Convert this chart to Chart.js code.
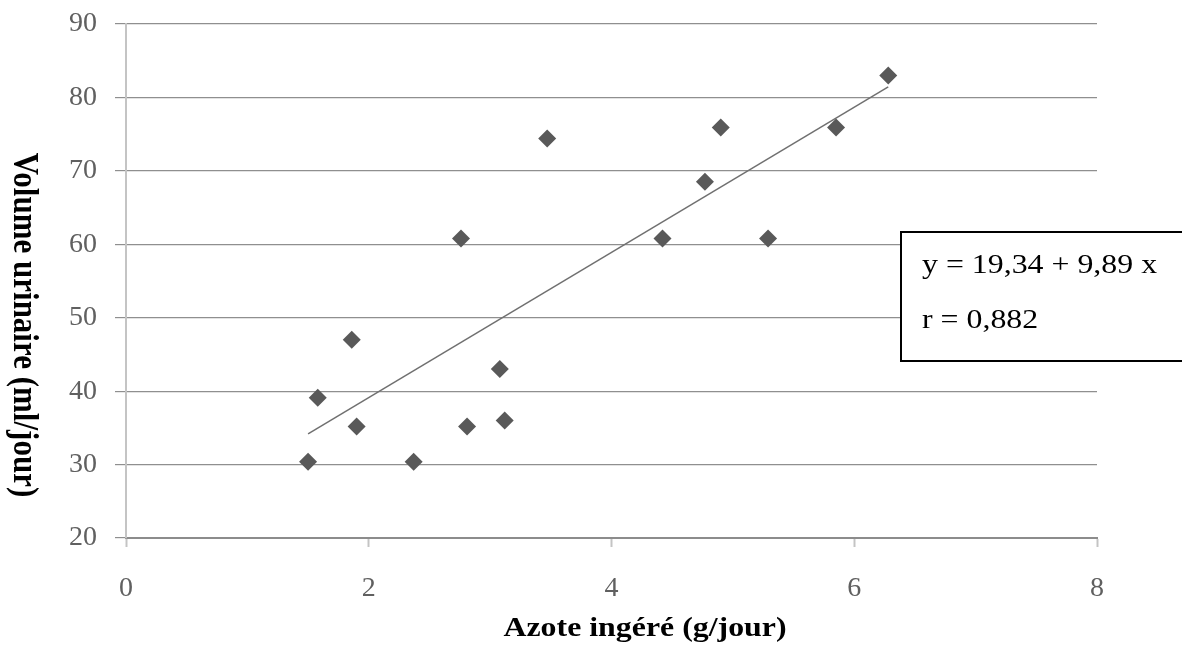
<!DOCTYPE html>
<html>
<head>
<meta charset="utf-8">
<script src="https://cdn.jsdelivr.net/npm/chart.js@4.4.0/dist/chart.umd.min.js"></script>
<style>
  html, body { margin: 0; padding: 0; background: #fff; }
  #wrap { width: 1182px; height: 646px; }
</style>
</head>
<body>
<div id="wrap"><canvas id="azoteChart" width="1182" height="646"></canvas></div>
<script>
// valeurs
const azote = [1.50, 1.58, 1.86, 1.90, 2.37, 2.76, 2.81, 3.08, 3.12, 3.47, 4.42, 4.77, 4.90, 5.29, 5.85, 6.28];
const volume = [30.4, 39.1, 47.0, 35.2, 30.4, 60.8, 35.2, 43.0, 36.0, 74.4, 60.8, 68.5, 75.9, 60.8, 75.9, 83.0];

// droite de regression (equation de l'encadre)
const intercept = 19.34;
const slope = 9.89;
const equationText = 'y = 19,34 + 9,89 x';
const corrText = 'r = 0,882';

const xTitle = 'Azote ingéré (g/jour)';
const yTitle = 'Volume urinaire (ml/jour)';

const points = azote.map((x, i) => ({ x: x, y: volume[i] }));
const xMin = Math.min(...azote);
const xMax = Math.max(...azote);
const trend = [
    { x: xMin, y: intercept + slope * xMin },
    { x: xMax, y: intercept + slope * xMax }
];

const SERIF = '"Liberation Serif", "Times New Roman", serif';
const STRETCH = 1.18; // le texte du graphique d'origine est un peu etire

// titres des axes + encadre de l'equation
const extrasPlugin = {
    id: 'extras',
    afterDraw(chart) {
        const ctx = chart.ctx;
        ctx.save();
        ctx.fillStyle = '#000';

        // titre axe x
        ctx.save();
        ctx.font = 'bold 27px ' + SERIF;
        ctx.textAlign = 'center';
        ctx.textBaseline = 'alphabetic';
        ctx.translate(645, 636);
        ctx.scale(STRETCH, 1);
        ctx.fillText(xTitle, 0, 0);
        ctx.restore();

        // titre axe y (lu de haut en bas)
        ctx.save();
        ctx.font = 'bold 31px ' + SERIF;
        ctx.textAlign = 'center';
        ctx.textBaseline = 'alphabetic';
        ctx.translate(14, 325);
        ctx.rotate(Math.PI / 2);
        ctx.scale(1, STRETCH);
        ctx.fillText(yTitle, 0, 0);
        ctx.restore();

        // encadre
        ctx.fillStyle = '#fff';
        ctx.fillRect(901, 232, 300, 129);
        ctx.strokeStyle = '#000';
        ctx.lineWidth = 2;
        ctx.strokeRect(901, 232, 300, 129);

        ctx.fillStyle = '#000';
        ctx.font = '27px ' + SERIF;
        ctx.textAlign = 'left';
        ctx.save();
        ctx.translate(922, 273);
        ctx.scale(STRETCH, 1);
        ctx.fillText(equationText, 0, 0);
        ctx.restore();
        ctx.save();
        ctx.translate(922, 328);
        ctx.scale(STRETCH, 1);
        ctx.fillText(corrText, 0, 0);
        ctx.restore();

        ctx.restore();
    }
};

const ctx = document.getElementById('azoteChart').getContext('2d');
new Chart(ctx, {
    type: 'scatter',
    data: {
        datasets: [{
            label: 'Mesures',
            data: points,
            pointStyle: 'rectRot',
            pointRadius: 9,
            pointBackgroundColor: '#595959',
            pointBorderWidth: 0,
            pointBorderColor: '#595959'
        }, {
            type: 'line',
            label: 'Regression',
            data: trend,
            borderColor: '#707070',
            borderWidth: 1.5,
            pointRadius: 0,
            fill: false
        }]
    },
    options: {
        responsive: false,
        animation: false,
        layout: {
            padding: { top: 24, left: 0, right: 85, bottom: 0 }
        },
        plugins: {
            legend: { display: false },
            tooltip: { enabled: false }
        },
        scales: {
            x: {
                type: 'linear',
                min: 0,
                max: 8,
                ticks: {
                    stepSize: 2,
                    padding: 25,
                    color: '#606060',
                    font: { family: SERIF, size: 28 }
                },
                grid: {
                    drawOnChartArea: false,
                    drawTicks: true,
                    tickLength: 9,
                    tickColor: '#c4c4c4',
                    tickWidth: 2
                },
                border: { color: '#8c8c8c', width: 2 },
                afterFit: (scale) => { scale.height = 108; }
            },
            y: {
                min: 20,
                max: 90,
                ticks: {
                    stepSize: 10,
                    padding: 18,
                    color: '#606060',
                    font: { family: SERIF, size: 28 }
                },
                grid: {
                    color: '#8f8f8f',
                    lineWidth: 1.2,
                    tickLength: 11,
                    tickColor: '#8f8f8f'
                },
                border: { color: '#c4c4c4', width: 2 },
                afterFit: (scale) => {
                    scale.width = 126;
                    // pas de marge en plus pour le libelle du haut
                    scale.paddingTop = 0;
                    scale.paddingBottom = 0;
                }
            }
        }
    },
    plugins: [extrasPlugin]
});
</script>
</body>
</html>
